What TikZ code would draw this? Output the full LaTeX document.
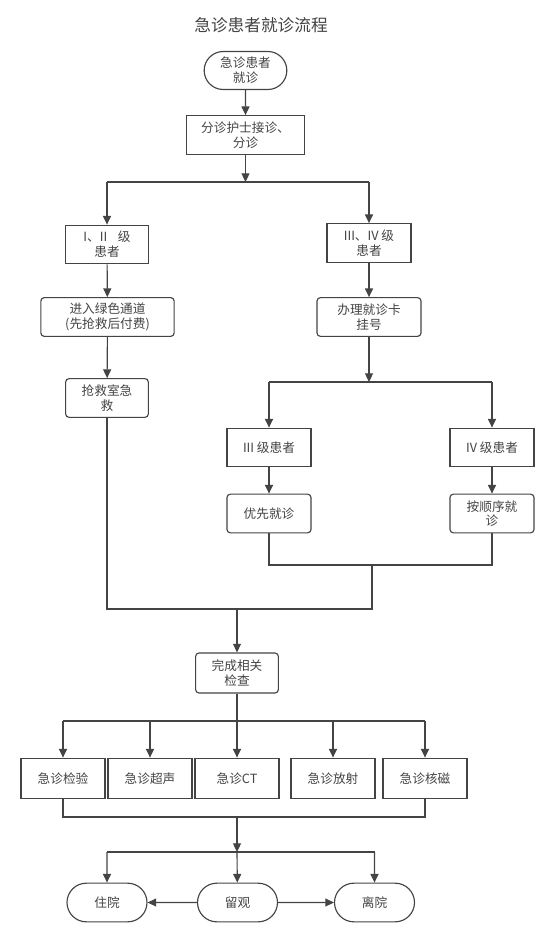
\documentclass[tikz,border=0pt]{standalone}
\usepackage{fontspec}
\setmainfont{Noto Sans CJK SC}
\usetikzlibrary{arrows.meta,shapes.misc}
\definecolor{ln}{HTML}{444444}
\definecolor{tx}{HTML}{444444}
\begin{document}
\begin{tikzpicture}[x=0.75pt,y=-0.75pt,
  every node/.style={font=\fontsize{9.5pt}{11pt}\selectfont, text=tx, align=center, inner sep=1pt},
  sq/.style={draw=ln, line width=0.85pt, rectangle, minimum width=63pt, minimum height=29pt},
  rd/.style={sq, rounded corners=2.5pt},
  term/.style={draw=ln, line width=0.85pt, rounded rectangle, minimum width=63pt, minimum height=28.5pt},
  conn/.style={draw=ln, line width=0.85pt},
  arr/.style={conn, -{Triangle[length=6.5pt,width=6pt]}}]
\useasboundingbox (0,0) rectangle (551,931);
\fill[white] (0,0) rectangle (551,931);

\node[font=\fontsize{12.5pt}{14pt}\selectfont, text=tx] (title) at (261,25) {急诊患者就诊流程};

\node[term, minimum width=64pt] (start) at (245.5,70.5) {急诊患者\\就诊};
\node[sq, minimum width=89pt] (triage) at (245.5,135) {分诊护士接诊、\\分诊};

\coordinate (bM) at (245.5,182);
\coordinate (bL) at (107,182);
\coordinate (bR) at (369,182);

\node[sq, minimum width=62pt] (g12) at (107,244.5) {I、II\hspace{8pt}级\\患者};
\node[rd, minimum width=100pt] (green) at (107.5,317) {进入绿色通道\\(先抢救后付费)};
\node[rd, minimum width=62pt] (resc) at (107,398) {抢救室急\\救};

\node[sq] (g34) at (369,243) {III、IV 级\\患者};
\node[rd, minimum width=78pt] (reg) at (369,317) {办理就诊卡\\挂号};

\coordinate (c2) at (369,382);
\coordinate (c2L) at (269,382);
\coordinate (c2R) at (492,382);

\node[sq] (g3) at (269,447.5) {III 级患者};
\node[sq] (g4) at (492,447.5) {IV 级患者};
\node[rd] (prio) at (269,513.5) {优先就诊};
\node[rd] (seq) at (492,513.5) {按顺序就\\诊};

\coordinate (m1L) at (269,565);
\coordinate (m1R) at (492,565);
\coordinate (m1M) at (372,565);
\coordinate (m2L) at (107,609);
\coordinate (m2R) at (372,609);
\coordinate (m2M) at (237,609);

\node[rd, minimum width=62pt, minimum height=30pt] (check) at (237,673) {完成相关\\检查};

\coordinate (c3L) at (63,721);
\coordinate (c3R) at (425,721);
\coordinate (c3M) at (237,721);

\node[sq, minimum height=30.5pt] (e1) at (63,778.5) {急诊检验};
\node[sq, minimum height=30.5pt] (e2) at (150,778.5) {急诊超声};
\node[sq, minimum height=30.5pt] (e3) at (237,778.5) {急诊CT};
\node[sq, minimum height=30.5pt] (e4) at (333,778.5) {急诊放射};
\node[sq, minimum height=30.5pt] (e5) at (425,778.5) {急诊核磁};

\coordinate (m3L) at (63,817);
\coordinate (m3R) at (425,817);
\coordinate (m3M) at (237,817);
\coordinate (c4M) at (237,852);
\coordinate (c4L) at (107,852);
\coordinate (c4R) at (374.5,852);

\node[term, minimum width=62pt, minimum height=29pt] (stay) at (237.5,902.5) {留观};
\node[term, minimum width=62pt, minimum height=29pt] (hosp) at (107,902.5) {住院};
\node[term, minimum width=62pt, minimum height=29pt] (leave) at (374.5,902.5) {离院};

% connectors
\draw[arr] (start) -- (triage);
\draw[arr] (triage) -- (bM);
\draw[conn] (bL) -- (bR);
\draw[arr] (bL) -- (g12);
\draw[arr] (bR) -- (g34);
\draw[arr] (g12) -- (green);
\draw[arr] (green) -- (resc);
\draw[arr] (g34) -- (reg);
\draw[arr] (reg) -- (c2);
\draw[conn] (c2L) -- (c2R);
\draw[arr] (c2L) -- (g3);
\draw[arr] (c2R) -- (g4);
\draw[arr] (g3) -- (prio);
\draw[arr] (g4) -- (seq);
\draw[conn] (prio) -- (m1L) -- (m1R) -- (seq);
\draw[conn] (m1M) -- (m2R) -- (m2L) -- (resc);
\draw[arr] (m2M) -- (check);
\draw[conn] (check) -- (c3M);
\draw[conn] (c3L) -- (c3R);
\draw[arr] (c3L) -- (e1);
\draw[arr] (e2 |- c3M) -- (e2);
\draw[arr] (c3M) -- (e3);
\draw[arr] (e4 |- c3M) -- (e4);
\draw[arr] (c3R) -- (e5);
\draw[conn] (e1) -- (m3L) -- (m3R) -- (e5);
\draw[arr] (m3M) -- (c4M);
\draw[conn] (c4L) -- (c4R);
\draw[arr] (c4M) -- (stay);
\draw[arr] (c4L) -- (hosp);
\draw[arr] (c4R) -- (leave);
\draw[arr] (stay) -- (hosp);
\draw[arr] (stay) -- (leave);
\end{tikzpicture}
\end{document}
